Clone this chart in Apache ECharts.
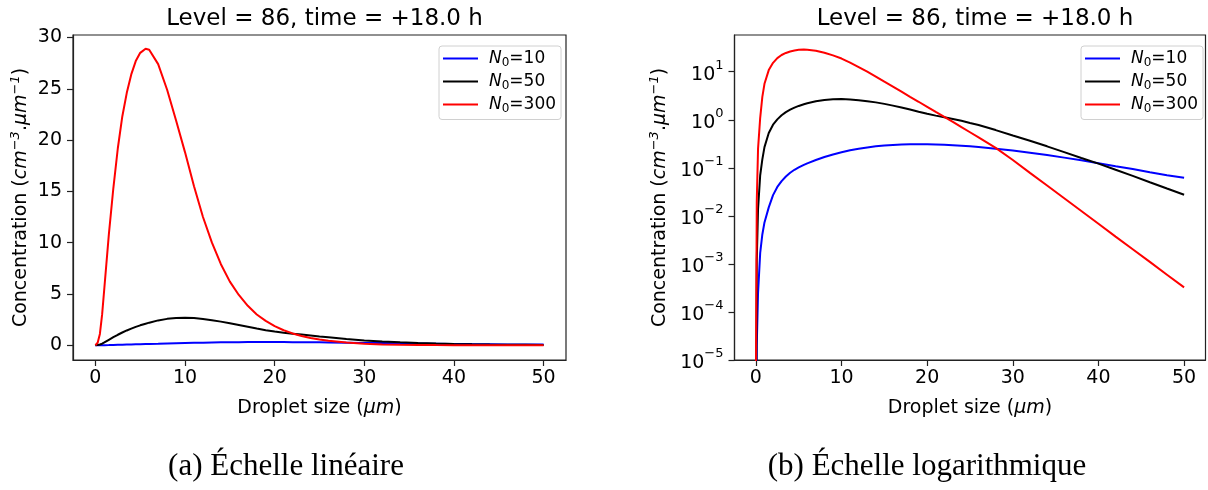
<!DOCTYPE html>
<html>
<head>
<meta charset="utf-8">
<script src="https://cdn.jsdelivr.net/npm/echarts@6/dist/echarts.min.js"></script>
<style>
  html, body { margin: 0; padding: 0; background: #fff; }
  #chart { width: 1208px; height: 490px; }
</style>
</head>
<body>
<div id="chart"></div>
<script>
// ---- Data ----
const titleText = 'Level = 86, time = +18.0 h';
const captionA = '(a) Échelle linéaire';
const captionB = '(b) Échelle logarithmique';
const seriesNames = ['N0=10', 'N0=50', 'N0=300'];

// droplet size (µm)
const dropletSize = [0.001, 0.1, 0.25, 0.5, 0.75, 1, 1.5, 2, 2.5, 3, 3.5, 4, 4.5, 5, 5.6,
  6, 7, 8, 9, 10, 11, 12, 13, 14, 15, 16, 17, 18, 19, 20, 21, 22, 23, 24, 25, 26,
  28, 30, 32, 34, 36, 38, 40, 42, 44, 46, 48, 50];

// N0 = 10 (blue)
const n10 = [8e-9, 2e-5, 2.5e-4, 0.0017, 0.0041, 0.0073, 0.015, 0.027, 0.04, 0.053, 0.066, 0.079, 0.091, 0.102, 0.115,
  0.124, 0.145, 0.168, 0.19, 0.21, 0.232, 0.25, 0.266, 0.28, 0.291, 0.3, 0.306, 0.31, 0.311, 0.31, 0.306, 0.301, 0.295, 0.288, 0.28, 0.271,
  0.25, 0.228, 0.206, 0.184, 0.163, 0.143, 0.125, 0.108, 0.094, 0.081, 0.07, 0.062];

// N0 = 50 (black)
const n50 = [5e-8, 0.0012, 0.014, 0.07, 0.15, 0.27, 0.53, 0.79, 1.02, 1.24, 1.44, 1.62, 1.79, 1.94, 2.1,
  2.2, 2.42, 2.57, 2.66, 2.69, 2.65, 2.56, 2.44, 2.3, 2.14, 1.97, 1.8, 1.63, 1.47, 1.33, 1.22, 1.13, 1.04, 0.95, 0.86, 0.78,
  0.61, 0.47, 0.365, 0.28, 0.212, 0.16, 0.122, 0.091, 0.068, 0.05, 0.037, 0.0275];

// N0 = 300 (red)
const n300 = [3e-6, 0.02, 0.25, 1.1, 3.0, 5.6, 10.8, 15.3, 19.2, 22.3, 24.6, 26.4, 27.7, 28.5, 28.9,
  28.8, 27.4, 24.9, 21.9, 18.8, 15.5, 12.5, 10.0, 7.9, 6.2, 4.9, 3.84, 3.0, 2.37, 1.86, 1.46, 1.15, 0.9, 0.7, 0.55, 0.43,
  0.26, 0.145, 0.0785, 0.0427, 0.0232, 0.0126, 0.00684, 0.0037, 0.00202, 0.0011, 0.000596, 0.000324];

const xTicks = [0, 10, 20, 30, 40, 50];
const yTicksLinear = [0, 5, 10, 15, 20, 25, 30];

// ---- Chart ----
const FONT = 'DejaVu Sans';
const AX = '#222';
const colors = ['#0000ff', '#000000', '#ff0000'];
const values = [n10, n50, n300];

const chart = echarts.init(document.getElementById('chart'), null, { renderer: 'canvas' });

const nameRich = {
  n: { fontFamily: FONT, fontSize: 19, color: '#000', lineHeight: 24 },
  i: { fontFamily: FONT, fontSize: 19, color: '#000', fontStyle: 'italic', lineHeight: 24 },
  s: { fontFamily: FONT, fontSize: 13, color: '#000', fontStyle: 'italic', verticalAlign: 'top', lineHeight: 14 }
};
const xName = '{n|Droplet size (}{i|μm}{n|)}';
const yName = '{n|Concentration (}{i|cm}{s|−3}{n|.}{i|μm}{s|−1}{n|)}';

function xAxisDef(gi) {
  return {
    gridIndex: gi, type: 'value', min: -2.5, max: 52.5,
    splitLine: { show: false },
    axisLine: { show: true, onZero: false, lineStyle: { color: AX, width: 1.2 } },
    axisTick: { show: true, length: 6, customValues: xTicks, lineStyle: { color: AX, width: 1.2 } },
    axisLabel: { customValues: xTicks, margin: 9, fontFamily: FONT, fontSize: 19, color: '#000' },
    name: xName, nameLocation: 'middle', nameGap: 36,
    nameTextStyle: { rich: nameRich }
  };
}

function legendDef(left) {
  return {
    orient: 'vertical', left: left, top: 46,
    data: seriesNames, icon: 'rect', itemWidth: 35, itemHeight: 2.2, itemGap: 4.5,
    padding: [4, 5, 5, 4],
    backgroundColor: 'rgba(255,255,255,0.8)', borderColor: '#d0d0d0', borderWidth: 1, borderRadius: 3,
    formatter: function (name) { return '{i|N}{sub|0}{t|' + name.slice(2) + '}'; },
    textStyle: {
      padding: [0, 0, 0, 6],
      rich: {
        i: { fontFamily: FONT, fontSize: 17, fontStyle: 'italic', color: '#000', lineHeight: 20 },
        sub: { fontFamily: FONT, fontSize: 12, color: '#000', verticalAlign: 'bottom', lineHeight: 13 },
        t: { fontFamily: FONT, fontSize: 17, color: '#000', lineHeight: 20 }
      }
    }
  };
}

const series = [];
[0, 1].forEach(function (gi) {
  seriesNames.forEach(function (name, k) {
    series.push({
      type: 'line', name: name, xAxisIndex: gi, yAxisIndex: gi,
      data: dropletSize.map(function (d, i) { return [d, values[k][i]]; }),
      showSymbol: false, symbol: 'none', clip: true, smooth: false,
      lineStyle: { color: colors[k], width: 2 }, itemStyle: { color: colors[k] },
      emphasis: { disabled: true }, z: 2 + k
    });
  });
});

const option = {
  animation: false,
  backgroundColor: '#ffffff',
  title: [
    { text: titleText, left: 319.5, top: 3, textAlign: 'center',
      textStyle: { fontFamily: FONT, fontSize: 23, fontWeight: 'normal', color: '#000' } },
    { text: titleText, left: 970, top: 3, textAlign: 'center',
      textStyle: { fontFamily: FONT, fontSize: 23, fontWeight: 'normal', color: '#000' } }
  ],
  legend: [legendDef(439), legendDef(1081)],
  grid: [
    { left: 73, top: 35, width: 493, height: 325, show: true, borderColor: AX, borderWidth: 1.2, backgroundColor: 'transparent' },
    { left: 734.5, top: 35, width: 471, height: 325, show: true, borderColor: AX, borderWidth: 1.2, backgroundColor: 'transparent' }
  ],
  xAxis: [xAxisDef(0), xAxisDef(1)],
  yAxis: [
    {
      gridIndex: 0, type: 'value', min: -1.44, max: 30.24,
      splitLine: { show: false },
      axisLine: { show: true, onZero: false, lineStyle: { color: AX, width: 1.2 } },
      axisTick: { show: true, length: 6, customValues: yTicksLinear, lineStyle: { color: AX, width: 1.2 } },
      axisLabel: { customValues: yTicksLinear, margin: 11, fontFamily: FONT, fontSize: 19, color: '#000' },
      name: yName, nameLocation: 'middle', nameGap: 40, nameRotate: 90,
      nameTextStyle: { rich: nameRich }
    },
    {
      gridIndex: 1, type: 'log', logBase: 10, min: 1e-5, max: 58.1,
      splitLine: { show: false }, minorTick: { show: false },
      axisLine: { show: true, onZero: false, lineStyle: { color: AX, width: 1.2 } },
      axisTick: { show: true, length: 6, lineStyle: { color: AX, width: 1.2 } },
      axisLabel: {
        margin: 11, showMaxLabel: false, color: '#000',
        formatter: function (v) {
          const e = Math.round(Math.log10(v));
          return '{b|10}{s|' + (e < 0 ? '−' : '') + Math.abs(e) + '}';
        },
        rich: {
          b: { fontFamily: FONT, fontSize: 19, color: '#000', lineHeight: 26, verticalAlign: 'bottom' },
          s: { fontFamily: FONT, fontSize: 13, color: '#000', lineHeight: 14, verticalAlign: 'top' }
        }
      },
      name: yName, nameLocation: 'middle', nameGap: 62, nameRotate: 90,
      nameTextStyle: { rich: nameRich }
    }
  ],
  series: series,
  graphic: [
    { type: 'text', x: 286, y: 467,
      style: { text: captionA, fontFamily: 'Liberation Serif', fontSize: 31, fill: '#000', align: 'center', verticalAlign: 'middle' } },
    { type: 'text', x: 927, y: 467,
      style: { text: captionB, fontFamily: 'Liberation Serif', fontSize: 31, fill: '#000', align: 'center', verticalAlign: 'middle' } }
  ]
};

chart.setOption(option);
</script>
</body>
</html>
